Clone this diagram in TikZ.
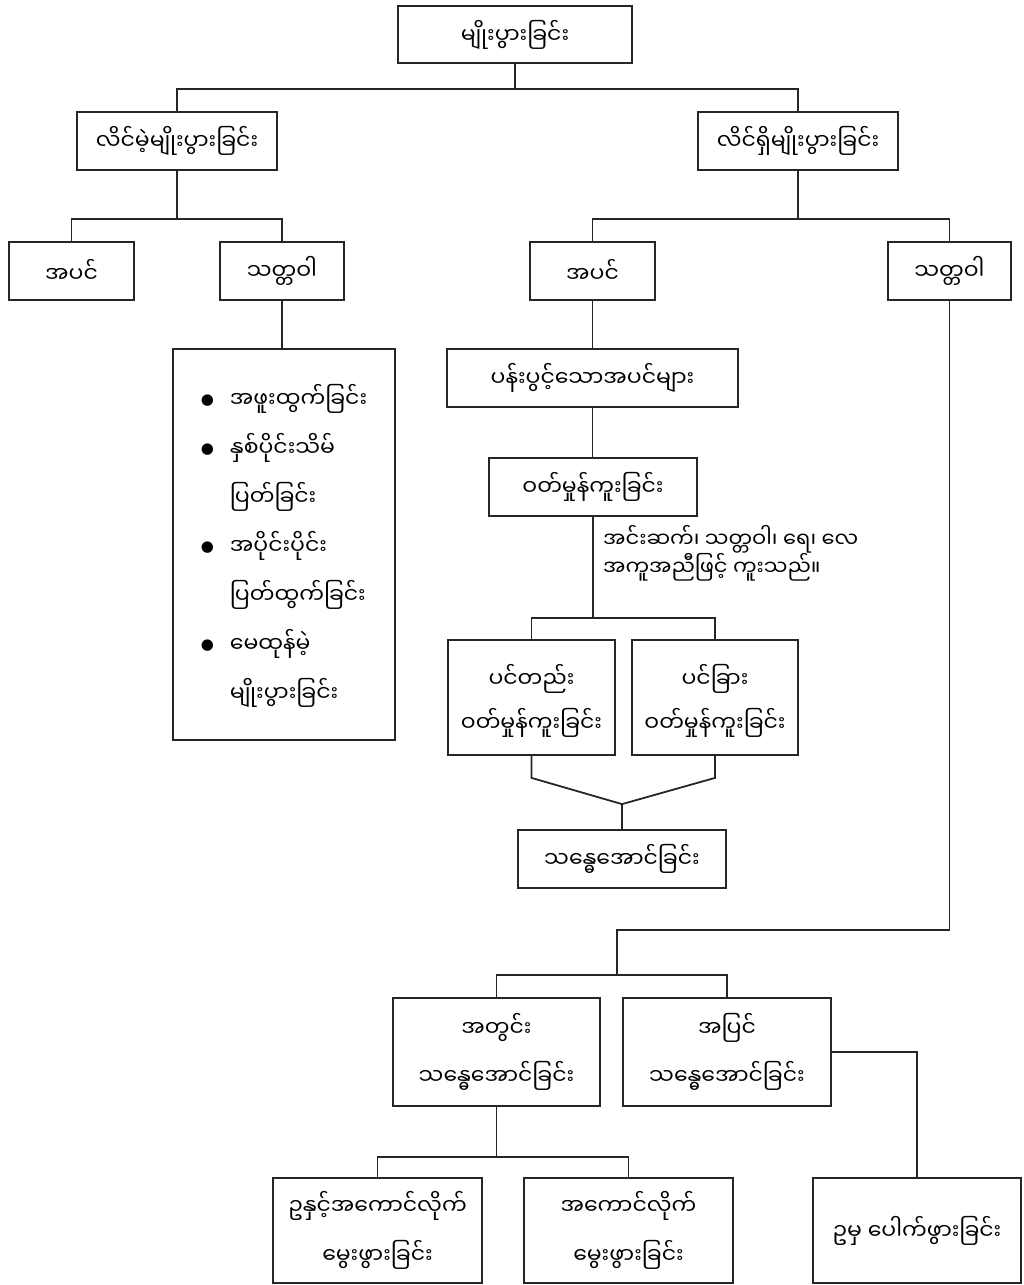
\documentclass[tikz,border=0pt]{standalone}
\usepackage{fontspec}
\usepackage{tikz}
\usetikzlibrary{positioning}

\newfontfamily\mmfont[Script=Myanmar]{Noto Sans Myanmar UI}
\newfontfamily\symfont{DejaVu Sans}
\newcommand{\listdot}{\raisebox{3pt}{\symfont\fontsize{15}{15}\selectfont ●}}

\begin{document}
\begin{tikzpicture}[
    x=1pt, y=-1pt,
    every node/.style={font=\mmfont\fontsize{22}{44}\selectfont},
    box/.style={rectangle, draw=black!85, line width=1.8pt, align=center, inner sep=0pt},
    boxsize/.style 2 args={minimum width=#1pt, minimum height=#2pt},
    note/.style={align=left, inner sep=0pt, font=\mmfont\fontsize{21}{28}\selectfont},
    link/.style={draw=black!85, line width=1.8pt}
]
\useasboundingbox (0,0) rectangle (1023,1285);

% Top levels
\node[box, boxsize={234}{57}] (repro) at (515,34.5) {မျိုးပွားခြင်း};
\node[box, boxsize={200}{58}] (asexual) at (177,141) {လိင်မဲ့မျိုးပွားခြင်း};
\node[box, boxsize={200}{58}] (sexual) at (798,141) {လိင်ရှိမျိုးပွားခြင်း};

\node[box, boxsize={125}{58}] (asexPlant) at (71.5,271) {အပင်};
\node[box, boxsize={124}{58}] (asexAnimal) at (282,271) {သတ္တဝါ};
\node[box, boxsize={125}{58}] (sexPlant) at (592.5,271) {အပင်};
\node[box, boxsize={123}{58}] (sexAnimal) at (949.5,271) {သတ္တဝါ};

% Asexual methods in animals
\node[box, boxsize={222}{391}, font=\mmfont\fontsize{22}{49}\selectfont] (methods) at (284,544.5) {%
  \begin{tabular}{@{}c@{\hspace{16pt}}l@{}}
    \listdot & အဖူးထွက်ခြင်း\\
    \listdot & နှစ်ပိုင်းသိမ်\\
             & ပြတ်ခြင်း\\
    \listdot & အပိုင်းပိုင်း\\
             & ပြတ်ထွက်ခြင်း\\
    \listdot & မေထုန်မဲ့\\
             & မျိုးပွားခြင်း
  \end{tabular}};

% Flowering plants
\node[box, boxsize={291}{58}] (flowering) at (592.5,378) {ပန်းပွင့်သောအပင်များ};
\node[box, boxsize={208}{58}] (pollination) at (593,487) {ဝတ်မှုန်ကူးခြင်း};
\node[note, anchor=west] (agents) at (603,553.5) {အင်းဆက်၊ သတ္တဝါ၊ ရေ၊ လေ\\အကူအညီဖြင့် ကူးသည်။};
\node[box, boxsize={167}{115}] (selfPoll) at (531.5,697.5) {\rule{0pt}{30pt}ပင်တည်း\\ဝတ်မှုန်ကူးခြင်း};
\node[box, boxsize={166}{115}] (crossPoll) at (715,697.5) {\rule{0pt}{30pt}ပင်ခြား\\ဝတ်မှုန်ကူးခြင်း};
\node[box, boxsize={208}{58}] (fertil) at (622,859) {သန္ဓေအောင်ခြင်း};

% Animals
\node[box, boxsize={207}{108}, font=\mmfont\fontsize{22}{48}\selectfont] (internal) at (496.5,1052) {အတွင်း\\သန္ဓေအောင်ခြင်း};
\node[box, boxsize={208}{108}, font=\mmfont\fontsize{22}{48}\selectfont] (external) at (727,1052) {အပြင်\\သန္ဓေအောင်ခြင်း};
\node[box, boxsize={209}{105}, font=\mmfont\fontsize{22}{49}\selectfont] (ovovivi) at (377.5,1230.5) {ဥနှင့်အကောင်လိုက်\\မွေးဖွားခြင်း};
\node[box, boxsize={209}{105}, font=\mmfont\fontsize{22}{49}\selectfont] (vivi) at (628.5,1230.5) {အကောင်လိုက်\\မွေးဖွားခြင်း};
\node[box, boxsize={208}{105}] (ovi) at (917,1230.5) {ဥမှ ပေါက်ဖွားခြင်း};

% Tree connectors
\draw[link] (repro.south) -- ++(0,25) coordinate (b0);
\draw[link] (asexual.north) |- (b0) -| (sexual.north);
\draw[link] (asexual.south) -- ++(0,48) coordinate (b1);
\draw[link] (asexPlant.north) |- (b1) -| (asexAnimal.north);
\draw[link] (sexual.south) -- ++(0,48) coordinate (b2);
\draw[link] (sexPlant.north) |- (b2) -| (sexAnimal.north);

\draw[link] (asexAnimal.south) -- (asexAnimal.south |- methods.north);
\draw[link] (sexPlant.south) -- (flowering.north);
\draw[link] (flowering.south) -- (flowering.south |- pollination.north);
\draw[link] (pollination.south) -- ++(0,101) coordinate (b3);
\draw[link] (selfPoll.north) |- (b3) -| (crossPoll.north);

% both pollinations meet above fertilisation
\path (fertil.north) ++(0,-25) coordinate (merge);
\draw[link] (selfPoll.south) -- ++(0,22) -- (merge) -- (fertil.north);
\draw[link] (crossPoll.south) -- ++(0,22) -- (merge);

% animal branch runs down the right side
\coordinate (split) at (617,930);
\draw[link] (sexAnimal.south) |- (split) -- ++(0,45) coordinate (b4);
\draw[link] (internal.north) |- (b4) -| (external.north);
\draw[link] (internal.south) -- ++(0,50) coordinate (b5);
\draw[link] (ovovivi.north) |- (b5) -| (vivi.north);
\draw[link] (external.east) -| (ovi.north);

\end{tikzpicture}
\end{document}
